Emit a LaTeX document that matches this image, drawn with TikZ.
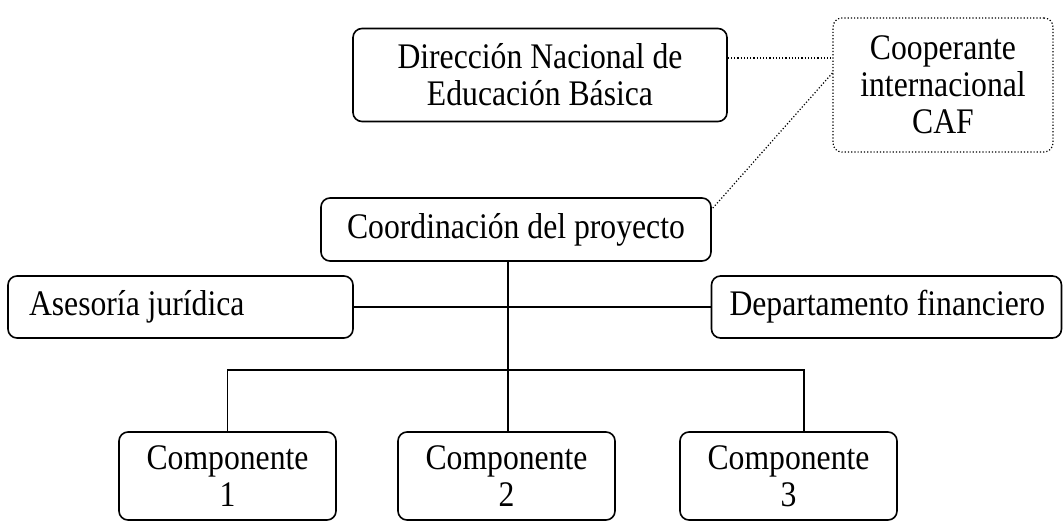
\documentclass[tikz,border=0pt]{standalone}
\usepackage{fontspec}
\setmainfont{Liberation Serif}[FakeStretch=0.88]
\begin{document}
\begin{tikzpicture}[x=1pt,y=1pt,
  box/.style={draw, line width=1.6pt, rounded corners=9pt, inner sep=0pt,
    font=\fontsize{36}{37}\selectfont, align=center},
  dotbox/.style={box, line width=1.2pt, dash pattern=on 1.2pt off 2pt},
  dotline/.style={line width=1.2pt, dash pattern=on 1.2pt off 2pt},
  link/.style={line width=1.6pt}]
\useasboundingbox (0,0) rectangle (1063,-522);
\node[box, minimum width=374, minimum height=93] (dir) at (540,-75) {Dirección Nacional de\\Educación Básica};
\node[dotbox, minimum width=220, minimum height=134] (caf) at (943,-85) {Cooperante\\internacional\\CAF};
\node[box, minimum width=390, minimum height=63] (coord) at (516,-229.5) {Coordinación del proyecto};
\node[box, minimum width=345, minimum height=62, text width=323, align=flush left] (ases) at (180.5,-307) {\hspace*{10pt}Asesoría jurídica};
\node[box, minimum width=350, minimum height=62, text width=332, align=flush left] (dept) at (886.5,-307) {\hspace*{9pt}Departamento financiero};
\node[box, minimum width=217, minimum height=88] (c1) at (227.5,-476) {Componente\\1};
\node[box, minimum width=217, minimum height=88] (c2) at (506.5,-476) {Componente\\2};
\node[box, minimum width=217, minimum height=88] (c3) at (788.5,-476) {Componente\\3};
\coordinate (hub) at (508,-370);
\coordinate (c3top) at (804,-370);
\draw[dotline] (dir.east |- 0,-58) -- (caf.west |- 0,-58);
\draw[dotline] (caf.west |- 0,-73) -- ([yshift=-12pt]coord.north east);
\draw[link] (coord.south -| hub) -- (hub);
\draw[link] (ases.east) -- (dept.west);
\draw[link] (c1.north) |- (c3top) -- (c3.north -| c3top);
\draw[link] (hub) -- (c2.north -| hub);
\end{tikzpicture}
\end{document}
